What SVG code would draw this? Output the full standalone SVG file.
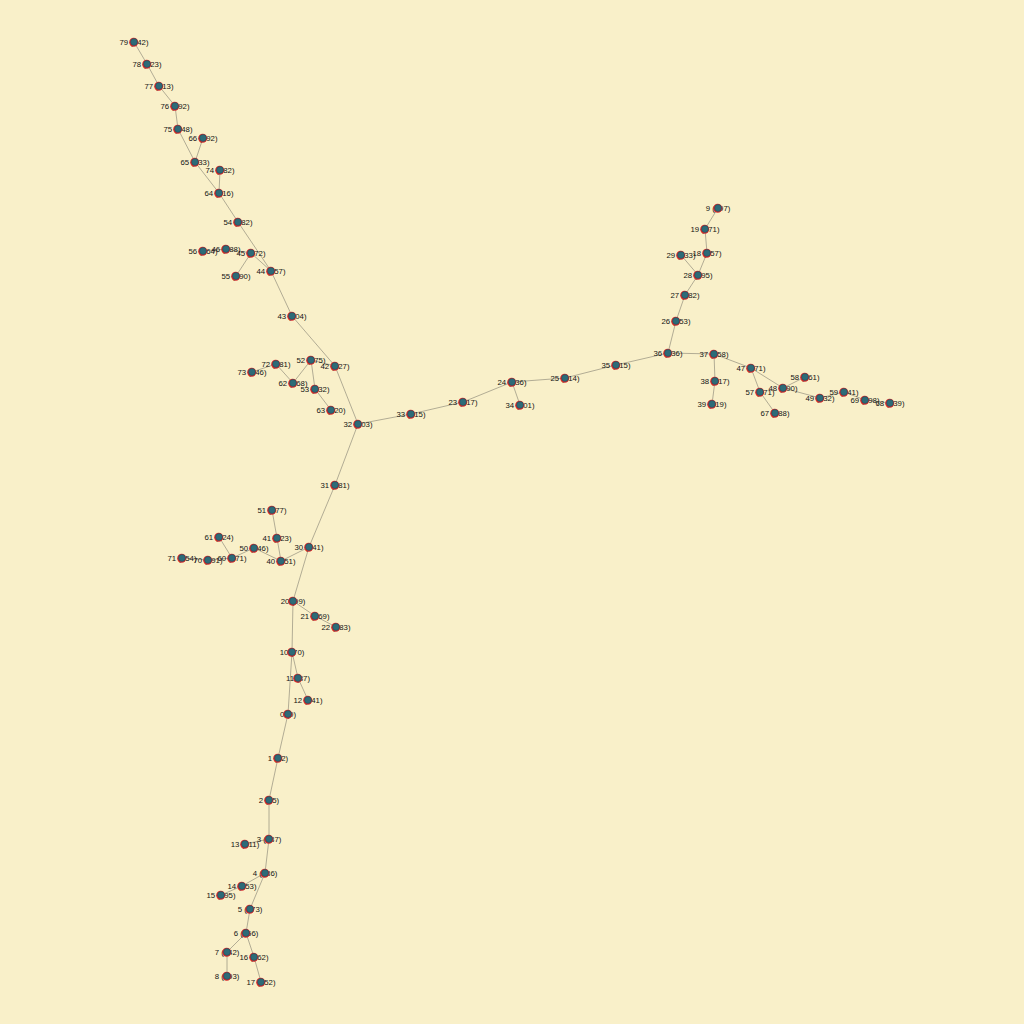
<svg xmlns="http://www.w3.org/2000/svg" xmlns:xlink="http://www.w3.org/1999/xlink" width="1024" height="1024" viewBox="0 0 1024 1024">
<style>
.e{stroke:#9f9a86;stroke-width:0.8;fill:none}
.node text{font-family:"Liberation Sans",Arial,sans-serif;font-size:7.8px;fill:#141414;text-anchor:middle}
</style>
<defs>
<g id="dot"><circle cx="-0.3" cy="0.3" r="4.5" fill="#d8282a"/><circle r="3.4" fill="#2d6b78" stroke="#1f4a55" stroke-width="0.5"/></g>
</defs>
<rect width="1024" height="1024" fill="#f9f0c9"/>
<g id="edges" class="e">
<line x1="288" y1="714" x2="278" y2="758"/>
<line x1="278" y1="758" x2="269" y2="800"/>
<line x1="269" y1="800" x2="269" y2="839"/>
<line x1="269" y1="839" x2="265" y2="873"/>
<line x1="265" y1="873" x2="250" y2="909"/>
<line x1="250" y1="909" x2="246" y2="933"/>
<line x1="246" y1="933" x2="227" y2="952"/>
<line x1="227" y1="952" x2="227" y2="976"/>
<line x1="246" y1="933" x2="254" y2="957"/>
<line x1="254" y1="957" x2="261" y2="982"/>
<line x1="269" y1="839" x2="245" y2="844"/>
<line x1="265" y1="873" x2="242" y2="886"/>
<line x1="242" y1="886" x2="221" y2="895"/>
<line x1="288" y1="714" x2="292" y2="652"/>
<line x1="292" y1="652" x2="298" y2="678"/>
<line x1="298" y1="678" x2="308" y2="700"/>
<line x1="292" y1="652" x2="293" y2="601"/>
<line x1="293" y1="601" x2="315" y2="616"/>
<line x1="315" y1="616" x2="336" y2="627"/>
<line x1="293" y1="601" x2="309" y2="547"/>
<line x1="309" y1="547" x2="335" y2="485"/>
<line x1="335" y1="485" x2="358" y2="424"/>
<line x1="358" y1="424" x2="411" y2="414"/>
<line x1="411" y1="414" x2="463" y2="402"/>
<line x1="463" y1="402" x2="512" y2="382"/>
<line x1="512" y1="382" x2="520" y2="405"/>
<line x1="512" y1="382" x2="565" y2="378"/>
<line x1="565" y1="378" x2="616" y2="365"/>
<line x1="616" y1="365" x2="668" y2="353"/>
<line x1="668" y1="353" x2="676" y2="321"/>
<line x1="676" y1="321" x2="685" y2="295"/>
<line x1="685" y1="295" x2="698" y2="275"/>
<line x1="698" y1="275" x2="707" y2="253"/>
<line x1="707" y1="253" x2="705" y2="229"/>
<line x1="705" y1="229" x2="718" y2="208"/>
<line x1="698" y1="275" x2="681" y2="255"/>
<line x1="668" y1="353" x2="714" y2="354"/>
<line x1="714" y1="354" x2="715" y2="381"/>
<line x1="715" y1="381" x2="712" y2="404"/>
<line x1="714" y1="354" x2="751" y2="368"/>
<line x1="751" y1="368" x2="760" y2="392"/>
<line x1="760" y1="392" x2="775" y2="413"/>
<line x1="751" y1="368" x2="783" y2="388"/>
<line x1="783" y1="388" x2="805" y2="377"/>
<line x1="783" y1="388" x2="820" y2="398"/>
<line x1="820" y1="398" x2="844" y2="392"/>
<line x1="844" y1="392" x2="865" y2="400"/>
<line x1="865" y1="400" x2="890" y2="403"/>
<line x1="309" y1="547" x2="281" y2="561"/>
<line x1="281" y1="561" x2="277" y2="538"/>
<line x1="277" y1="538" x2="272" y2="510"/>
<line x1="281" y1="561" x2="254" y2="548"/>
<line x1="254" y1="548" x2="232" y2="558"/>
<line x1="232" y1="558" x2="219" y2="537"/>
<line x1="232" y1="558" x2="208" y2="560"/>
<line x1="208" y1="560" x2="182" y2="558"/>
<line x1="358" y1="424" x2="335" y2="366"/>
<line x1="335" y1="366" x2="292" y2="316"/>
<line x1="292" y1="316" x2="271" y2="271"/>
<line x1="271" y1="271" x2="251" y2="253"/>
<line x1="251" y1="253" x2="226" y2="249"/>
<line x1="226" y1="249" x2="203" y2="251"/>
<line x1="251" y1="253" x2="236" y2="276"/>
<line x1="271" y1="271" x2="238" y2="222"/>
<line x1="238" y1="222" x2="219" y2="193"/>
<line x1="219" y1="193" x2="220" y2="170"/>
<line x1="219" y1="193" x2="195" y2="162"/>
<line x1="195" y1="162" x2="203" y2="138"/>
<line x1="195" y1="162" x2="178" y2="129"/>
<line x1="178" y1="129" x2="175" y2="106"/>
<line x1="175" y1="106" x2="159" y2="86"/>
<line x1="159" y1="86" x2="147" y2="64"/>
<line x1="147" y1="64" x2="134" y2="42"/>
<line x1="335" y1="366" x2="311" y2="360"/>
<line x1="311" y1="360" x2="293" y2="383"/>
<line x1="293" y1="383" x2="276" y2="364"/>
<line x1="276" y1="364" x2="252" y2="372"/>
<line x1="311" y1="360" x2="315" y2="389"/>
<line x1="315" y1="389" x2="331" y2="410"/>
</g>
<g id="n0" class="node"><text x="288" y="717">0 (0)</text><use href="#dot" x="288" y="714"/></g>
<g id="n1" class="node"><text x="278" y="761">1 (52)</text><use href="#dot" x="278" y="758"/></g>
<g id="n2" class="node"><text x="269" y="803">2 (95)</text><use href="#dot" x="269" y="800"/></g>
<g id="n3" class="node"><text x="269" y="842">3 (137)</text><use href="#dot" x="269" y="839"/></g>
<g id="n4" class="node"><text x="265" y="876">4 (186)</text><use href="#dot" x="265" y="873"/></g>
<g id="n5" class="node"><text x="250" y="912">5 (273)</text><use href="#dot" x="250" y="909"/></g>
<g id="n6" class="node"><text x="246" y="936">6 (356)</text><use href="#dot" x="246" y="933"/></g>
<g id="n7" class="node"><text x="227" y="955">7 (442)</text><use href="#dot" x="227" y="952"/></g>
<g id="n8" class="node"><text x="227" y="979">8 (493)</text><use href="#dot" x="227" y="976"/></g>
<g id="n9" class="node"><text x="718" y="211">9 (497)</text><use href="#dot" x="718" y="208"/></g>
<g id="n10" class="node"><text x="292" y="655">10 (70)</text><use href="#dot" x="292" y="652"/></g>
<g id="n11" class="node"><text x="298" y="681">11 (87)</text><use href="#dot" x="298" y="678"/></g>
<g id="n12" class="node"><text x="308" y="703">12 (141)</text><use href="#dot" x="308" y="700"/></g>
<g id="n13" class="node"><text x="245" y="847">13 (211)</text><use href="#dot" x="245" y="844"/></g>
<g id="n14" class="node"><text x="242" y="889">14 (253)</text><use href="#dot" x="242" y="886"/></g>
<g id="n15" class="node"><text x="221" y="898">15 (295)</text><use href="#dot" x="221" y="895"/></g>
<g id="n16" class="node"><text x="254" y="960">16 (362)</text><use href="#dot" x="254" y="957"/></g>
<g id="n17" class="node"><text x="261" y="985">17 (452)</text><use href="#dot" x="261" y="982"/></g>
<g id="n18" class="node"><text x="707" y="256">18 (457)</text><use href="#dot" x="707" y="253"/></g>
<g id="n19" class="node"><text x="705" y="232">19 (471)</text><use href="#dot" x="705" y="229"/></g>
<g id="n20" class="node"><text x="293" y="604">20 (99)</text><use href="#dot" x="293" y="601"/></g>
<g id="n21" class="node"><text x="315" y="619">21 (169)</text><use href="#dot" x="315" y="616"/></g>
<g id="n22" class="node"><text x="336" y="630">22 (183)</text><use href="#dot" x="336" y="627"/></g>
<g id="n23" class="node"><text x="463" y="405">23 (217)</text><use href="#dot" x="463" y="402"/></g>
<g id="n24" class="node"><text x="512" y="385">24 (236)</text><use href="#dot" x="512" y="382"/></g>
<g id="n25" class="node"><text x="565" y="381">25 (314)</text><use href="#dot" x="565" y="378"/></g>
<g id="n26" class="node"><text x="676" y="324">26 (353)</text><use href="#dot" x="676" y="321"/></g>
<g id="n27" class="node"><text x="685" y="298">27 (382)</text><use href="#dot" x="685" y="295"/></g>
<g id="n28" class="node"><text x="698" y="278">28 (395)</text><use href="#dot" x="698" y="275"/></g>
<g id="n29" class="node"><text x="681" y="258">29 (433)</text><use href="#dot" x="681" y="255"/></g>
<g id="n30" class="node"><text x="309" y="550">30 (141)</text><use href="#dot" x="309" y="547"/></g>
<g id="n31" class="node"><text x="335" y="488">31 (181)</text><use href="#dot" x="335" y="485"/></g>
<g id="n32" class="node"><text x="358" y="427">32 (203)</text><use href="#dot" x="358" y="424"/></g>
<g id="n33" class="node"><text x="411" y="417">33 (215)</text><use href="#dot" x="411" y="414"/></g>
<g id="n34" class="node"><text x="520" y="408">34 (301)</text><use href="#dot" x="520" y="405"/></g>
<g id="n35" class="node"><text x="616" y="368">35 (315)</text><use href="#dot" x="616" y="365"/></g>
<g id="n36" class="node"><text x="668" y="356">36 (336)</text><use href="#dot" x="668" y="353"/></g>
<g id="n37" class="node"><text x="714" y="357">37 (358)</text><use href="#dot" x="714" y="354"/></g>
<g id="n38" class="node"><text x="715" y="384">38 (417)</text><use href="#dot" x="715" y="381"/></g>
<g id="n39" class="node"><text x="712" y="407">39 (419)</text><use href="#dot" x="712" y="404"/></g>
<g id="n40" class="node"><text x="281" y="564">40 (151)</text><use href="#dot" x="281" y="561"/></g>
<g id="n41" class="node"><text x="277" y="541">41 (223)</text><use href="#dot" x="277" y="538"/></g>
<g id="n42" class="node"><text x="335" y="369">42 (227)</text><use href="#dot" x="335" y="366"/></g>
<g id="n43" class="node"><text x="292" y="319">43 (304)</text><use href="#dot" x="292" y="316"/></g>
<g id="n44" class="node"><text x="271" y="274">44 (357)</text><use href="#dot" x="271" y="271"/></g>
<g id="n45" class="node"><text x="251" y="256">45 (372)</text><use href="#dot" x="251" y="253"/></g>
<g id="n46" class="node"><text x="226" y="252">46 (388)</text><use href="#dot" x="226" y="249"/></g>
<g id="n47" class="node"><text x="751" y="371">47 (371)</text><use href="#dot" x="751" y="368"/></g>
<g id="n48" class="node"><text x="783" y="391">48 (390)</text><use href="#dot" x="783" y="388"/></g>
<g id="n49" class="node"><text x="820" y="401">49 (432)</text><use href="#dot" x="820" y="398"/></g>
<g id="n50" class="node"><text x="254" y="551">50 (246)</text><use href="#dot" x="254" y="548"/></g>
<g id="n51" class="node"><text x="272" y="513">51 (277)</text><use href="#dot" x="272" y="510"/></g>
<g id="n52" class="node"><text x="311" y="363">52 (275)</text><use href="#dot" x="311" y="360"/></g>
<g id="n53" class="node"><text x="315" y="392">53 (332)</text><use href="#dot" x="315" y="389"/></g>
<g id="n54" class="node"><text x="238" y="225">54 (382)</text><use href="#dot" x="238" y="222"/></g>
<g id="n55" class="node"><text x="236" y="279">55 (390)</text><use href="#dot" x="236" y="276"/></g>
<g id="n56" class="node"><text x="203" y="254">56 (464)</text><use href="#dot" x="203" y="251"/></g>
<g id="n57" class="node"><text x="760" y="395">57 (471)</text><use href="#dot" x="760" y="392"/></g>
<g id="n58" class="node"><text x="805" y="380">58 (461)</text><use href="#dot" x="805" y="377"/></g>
<g id="n59" class="node"><text x="844" y="395">59 (441)</text><use href="#dot" x="844" y="392"/></g>
<g id="n60" class="node"><text x="232" y="561">60 (271)</text><use href="#dot" x="232" y="558"/></g>
<g id="n61" class="node"><text x="219" y="540">61 (324)</text><use href="#dot" x="219" y="537"/></g>
<g id="n62" class="node"><text x="293" y="386">62 (368)</text><use href="#dot" x="293" y="383"/></g>
<g id="n63" class="node"><text x="331" y="413">63 (420)</text><use href="#dot" x="331" y="410"/></g>
<g id="n64" class="node"><text x="219" y="196">64 (416)</text><use href="#dot" x="219" y="193"/></g>
<g id="n65" class="node"><text x="195" y="165">65 (433)</text><use href="#dot" x="195" y="162"/></g>
<g id="n66" class="node"><text x="203" y="141">66 (492)</text><use href="#dot" x="203" y="138"/></g>
<g id="n67" class="node"><text x="775" y="416">67 (488)</text><use href="#dot" x="775" y="413"/></g>
<g id="n68" class="node"><text x="890" y="406">68 (539)</text><use href="#dot" x="890" y="403"/></g>
<g id="n69" class="node"><text x="865" y="403">69 (498)</text><use href="#dot" x="865" y="400"/></g>
<g id="n70" class="node"><text x="208" y="563">70 (291)</text><use href="#dot" x="208" y="560"/></g>
<g id="n71" class="node"><text x="182" y="561">71 (354)</text><use href="#dot" x="182" y="558"/></g>
<g id="n72" class="node"><text x="276" y="367">72 (381)</text><use href="#dot" x="276" y="364"/></g>
<g id="n73" class="node"><text x="252" y="375">73 (446)</text><use href="#dot" x="252" y="372"/></g>
<g id="n74" class="node"><text x="220" y="173">74 (482)</text><use href="#dot" x="220" y="170"/></g>
<g id="n75" class="node"><text x="178" y="132">75 (448)</text><use href="#dot" x="178" y="129"/></g>
<g id="n76" class="node"><text x="175" y="109">76 (492)</text><use href="#dot" x="175" y="106"/></g>
<g id="n77" class="node"><text x="159" y="89">77 (513)</text><use href="#dot" x="159" y="86"/></g>
<g id="n78" class="node"><text x="147" y="67">78 (523)</text><use href="#dot" x="147" y="64"/></g>
<g id="n79" class="node"><text x="134" y="45">79 (542)</text><use href="#dot" x="134" y="42"/></g>
</svg>
